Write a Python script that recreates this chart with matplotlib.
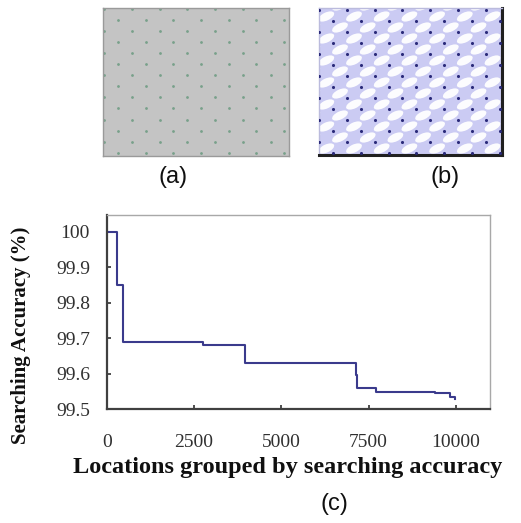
import numpy as np
import matplotlib
matplotlib.use("Agg")
import matplotlib.pyplot as plt
from matplotlib.patches import Ellipse

# ---- data for panel (c) ----
locations = [0, 240, 290, 290, 475, 2765, 3950, 7130, 7160, 7720, 9390, 9820, 9960]
accuracy  = [100.0, 100.0, 99.99, 99.85, 99.69, 99.68, 99.63, 99.595, 99.558, 99.549, 99.544, 99.535, 99.528]
xticks = [0, 2500, 5000, 7500, 10000]
xtick_labels = ["0", "2500", "5000", "7500", "10000"]
yticks = [99.5, 99.6, 99.7, 99.8, 99.9, 100.0]
ytick_labels = ["99.5", "99.6", "99.7", "99.8", "99.9", "100"]
xlabel = "Locations grouped by searching accuracy"
ylabel = "Searching Accuracy (%)"
panel_labels = ["(a)", "(b)", "(c)"]

W, H = 521, 523
fig = plt.figure(figsize=(W / 100, H / 100), dpi=100)
fig.patch.set_facecolor("white")

def px_axes(x0, y0, x1, y1):
    return fig.add_axes([x0 / W, 1 - y1 / H, (x1 - x0) / W, (y1 - y0) / H])

# ---- panel (a): grey field with lattice of small dots ----
axa = px_axes(103, 8, 289, 156)
axa.set_xlim(0, 186); axa.set_ylim(148, 0)
axa.set_facecolor("#c4c4c4")
for s in axa.spines.values():
    s.set_color("#9a9a9a"); s.set_linewidth(1)
axa.set_xticks([]); axa.set_yticks([])
rows_a = np.arange(0.5, 148, 11.1)
for i, yy in enumerate(rows_a):
    off = 1.3 if i % 2 == 0 else 14.8
    xs = np.arange(off, 186, 27.7)
    axa.scatter(xs, np.full_like(xs, yy), s=4, color="#78a08a", linewidths=0)

# ---- panel (b): lavender field with white blobs and dark dots ----
axb = px_axes(319, 8, 502, 155)
axb.set_xlim(0, 183); axb.set_ylim(147, 0)
axb.set_facecolor("#cbcbf3")
for k, s in axb.spines.items():
    s.set_color("#bbbbdd"); s.set_linewidth(1)
axb.spines["right"].set_color("#202020"); axb.spines["right"].set_linewidth(2.2)
axb.spines["bottom"].set_color("#202020"); axb.spines["bottom"].set_linewidth(2.2)
axb.set_xticks([]); axb.set_yticks([])
rows_b = np.arange(1.5, 150, 11.0)
for i, yy in enumerate(rows_b):
    off = 0.3 if i % 2 == 0 else 14.3
    xs = np.arange(off, 190, 27.7)
    for xx in xs:
        axb.add_patch(Ellipse((xx - 7, yy - 4), 17, 8, angle=-25,
                              facecolor="white", edgecolor="none", alpha=0.95))
for i, yy in enumerate(rows_b):
    off = 0.3 if i % 2 == 0 else 14.3
    xs = np.arange(off, 190, 27.7)
    axb.scatter(xs, np.full_like(xs, yy), s=5, color="#2a2a7a", linewidths=0, zorder=3)

# ---- panel (c): step curve ----
axc = px_axes(106.7, 215, 490, 409)
axc.plot(locations, accuracy, color="#3a3a8c", linewidth=1.5, drawstyle="steps-post")
axc.set_xlim(0, 10974)
axc.set_ylim(99.5, 100.048)
axc.set_xticks(xticks)
axc.set_xticklabels(xtick_labels)
axc.set_yticks(yticks)
axc.set_yticklabels(ytick_labels)
axc.tick_params(direction="in", length=3, width=1.2, colors="#303030",
                labelcolor="#303030", labelsize=14)
axc.tick_params(axis="x", pad=18)
axc.tick_params(axis="y", pad=12)
for lab in axc.get_xticklabels() + axc.get_yticklabels():
    lab.set_family("Liberation Serif")
axc.spines["left"].set_color("#404040"); axc.spines["left"].set_linewidth(1.6)
axc.spines["bottom"].set_color("#404040"); axc.spines["bottom"].set_linewidth(1.6)
axc.spines["top"].set_color("#a8a8a8"); axc.spines["top"].set_linewidth(1)
axc.spines["right"].set_color("#a8a8a8"); axc.spines["right"].set_linewidth(1)

fig.text(21 / W, 1 - 335 / H, ylabel, rotation=90, ha="center", va="center",
         family="Liberation Serif", fontweight="bold", fontsize=15, color="#101010")
fig.text(288 / W, 1 - 468 / H, xlabel, ha="center", va="center",
         family="Liberation Serif", fontweight="bold", fontsize=17.5, color="#101010")

fig.text(173 / W, 1 - 177 / H, panel_labels[0], ha="center", va="center",
         family="Liberation Sans", fontsize=17, color="#101010")
fig.text(445 / W, 1 - 177 / H, panel_labels[1], ha="center", va="center",
         family="Liberation Sans", fontsize=17, color="#101010")
fig.text(334 / W, 1 - 504 / H, panel_labels[2], ha="center", va="center",
         family="Liberation Sans", fontsize=17, color="#101010")

fig.savefig("out.png", dpi=100)
